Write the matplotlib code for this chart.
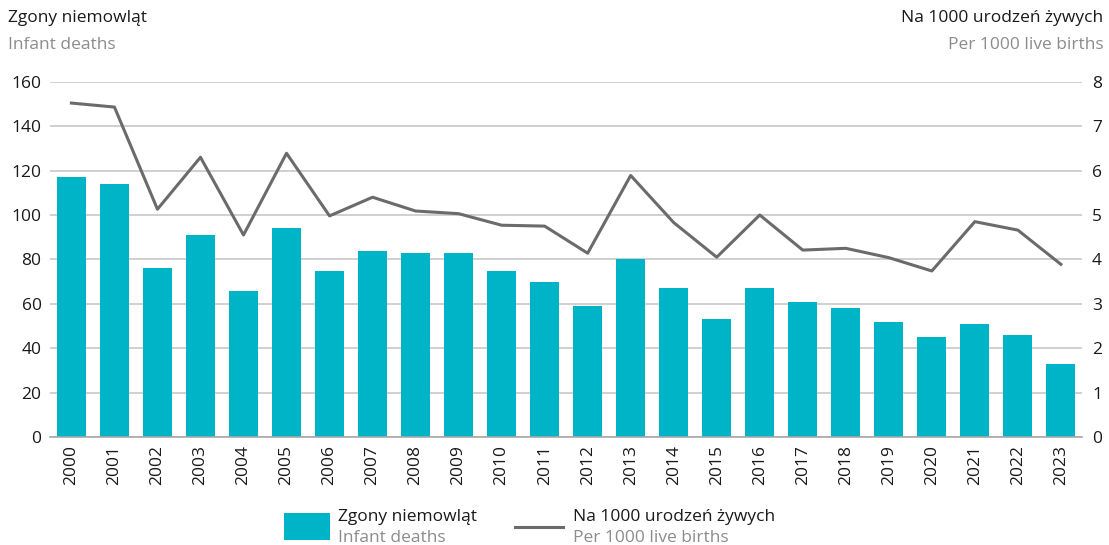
import matplotlib
matplotlib.use("Agg")
import matplotlib.pyplot as plt
from matplotlib.patches import Rectangle
from matplotlib.lines import Line2D

plt.rcParams['font.family'] = ['Open Sans', 'DejaVu Sans']

years = [str(y) for y in range(2000, 2024)]
deaths = [117, 114, 76, 91, 66, 94, 75, 84, 83, 83, 75, 70,
          59, 80, 67, 53, 67, 61, 58, 52, 45, 51, 46, 33]
rate = [7.52, 7.43, 5.13, 6.30, 4.55, 6.39, 4.98, 5.40, 5.09, 5.03, 4.77, 4.75,
        4.14, 5.89, 4.83, 4.05, 5.00, 4.21, 4.25, 4.04, 3.74, 4.85, 4.66, 3.89]

teal = '#00b4c8'
dark = '#6b6b6b'
grey_txt = '#8c8c8c'
grid_c = '#c4c4c4'

fig = plt.figure(figsize=(11.09, 5.45), dpi=100)
ax = fig.add_axes([0.045, 0.198, 0.931, 0.652])
ax2 = ax.twinx()

x = list(range(len(years)))
ax.bar(x, deaths, width=0.67, color=teal, zorder=2)
ax2.plot(x, rate, color=dark, lw=2.2, zorder=3)

ax.set_xlim(-0.5, len(years) - 0.5)
ax.set_ylim(0, 160)
ax2.set_ylim(0, 8)
ax.set_yticks(range(0, 161, 20))
ax2.set_yticks(range(0, 9))
ax.grid(axis='y', color=grid_c, lw=1.1, zorder=0)
ax.set_axisbelow(True)

ax.set_xticks(x)
ax.set_xticklabels(years, rotation=90, fontsize=12.5)
for a in (ax, ax2):
    for s in a.spines.values():
        s.set_visible(False)
    a.tick_params(length=0, labelsize=12.5, colors='#1a1a1a')
ax.tick_params(axis='y', pad=6)
ax2.tick_params(axis='y', pad=7)
ax.tick_params(axis='x', pad=6)
ax.spines['bottom'].set_visible(True)
ax.spines['bottom'].set_color('#a8a8a8')
ax.spines['bottom'].set_linewidth(1.2)

# axis headers
fig.text(0.007, 0.967, 'Zgony niemowląt', fontsize=12.5, color='#1a1a1a', va='center')
fig.text(0.007, 0.918, 'Infant deaths', fontsize=12.5, color=grey_txt, va='center')
fig.text(0.995, 0.967, 'Na 1000 urodzeń żywych', fontsize=12.5, color='#1a1a1a', va='center', ha='right')
fig.text(0.995, 0.918, 'Per 1000 live births', fontsize=12.5, color=grey_txt, va='center', ha='right')

# legend
fig.add_artist(Rectangle((0.256, 0.01), 0.0415, 0.048, transform=fig.transFigure,
                         color=teal, lw=0))
fig.text(0.305, 0.051, 'Zgony niemowląt', fontsize=12.5, color='#1a1a1a', va='center')
fig.text(0.305, 0.013, 'Infant deaths', fontsize=12.5, color=grey_txt, va='center')
fig.add_artist(Line2D([0.464, 0.508], [0.033, 0.033], transform=fig.transFigure,
                      color=dark, lw=2.2))
fig.text(0.517, 0.051, 'Na 1000 urodzeń żywych', fontsize=12.5, color='#1a1a1a', va='center')
fig.text(0.517, 0.013, 'Per 1000 live births', fontsize=12.5, color=grey_txt, va='center')

fig.savefig('out.png', dpi=100)
